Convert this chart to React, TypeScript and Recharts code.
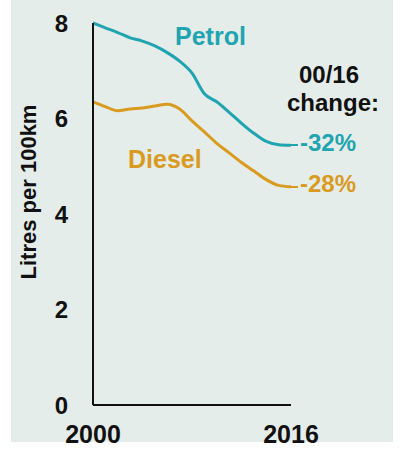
import React from 'react';
import { LineChart, Line, XAxis, YAxis } from 'recharts';

const years = [2000, 2001, 2002, 2003, 2004, 2005, 2006, 2007, 2008, 2009, 2010, 2011, 2012, 2013, 2014, 2015, 2016];
const petrol = [8.0, 7.9, 7.8, 7.69, 7.62, 7.52, 7.38, 7.2, 6.95, 6.52, 6.35, 6.13, 5.9, 5.69, 5.52, 5.45, 5.44];
const diesel = [6.35, 6.25, 6.16, 6.2, 6.22, 6.26, 6.3, 6.2, 5.95, 5.72, 5.48, 5.28, 5.08, 4.9, 4.72, 4.6, 4.57];
const yTicks = [0, 2, 4, 6, 8];
const xTicks = [2000, 2016];

const TEAL = '#1fa4b0';
const GOLD = '#d89b1f';
const FONT = '"Liberation Sans", Arial, sans-serif';

const data = years.map((y, i) => ({ year: y, petrol: petrol[i], diesel: diesel[i] }));

export default function App() {
  return (
    <div style={{ position: 'absolute', left: 0, top: 0, width: 400, height: 449, background: '#ffffff', fontFamily: FONT }}>
      <div style={{ position: 'absolute', left: 11, top: 0, width: 382, height: 442, background: '#e5edea' }} />
      <div style={{ position: 'absolute', left: 0, top: 0 }}>
        <LineChart width={400} height={449} data={data} margin={{ top: 23, right: 109, bottom: 0, left: 0 }}>
          <XAxis
            dataKey="year"
            type="number"
            domain={[2000, 2016]}
            ticks={xTicks}
            height={44}
            tickLine={false}
            axisLine={{ stroke: '#111', strokeWidth: 2 }}
            tickMargin={14}
            tick={{ fill: '#111', fontSize: 25, fontWeight: 700, fontFamily: FONT }}
          />
          <YAxis
            type="number"
            domain={[0, 8]}
            ticks={yTicks}
            width={93}
            tickLine={false}
            axisLine={{ stroke: '#111', strokeWidth: 2 }}
            tickMargin={19}
            tick={{ fill: '#111', fontSize: 24, fontWeight: 700, fontFamily: FONT }}
          />
          <Line dataKey="petrol" stroke={TEAL} strokeWidth={3} dot={false} isAnimationActive={false} type="monotone" />
          <Line dataKey="diesel" stroke={GOLD} strokeWidth={3} dot={false} isAnimationActive={false} type="monotone" />
        </LineChart>
      </div>
      <svg width={400} height={449} style={{ position: 'absolute', left: 0, top: 0, pointerEvents: 'none' }}>
        <g fontFamily={FONT} fontWeight={700}>
          <text x={28} y={192} fontSize={22} fill="#111" textAnchor="middle" dominantBaseline="central" transform="rotate(-90 28 192)">Litres per 100km</text>
          <text x={175} y={45} fontSize={25} fill={TEAL}>Petrol</text>
          <text x={128} y={168} fontSize={25} fill={GOLD}>Diesel</text>
          <text x={329} y={83} fontSize={24} fill="#111" textAnchor="middle">00/16</text>
          <text x={333} y={111} fontSize={24} fill="#111" textAnchor="middle">change:</text>
          <line x1={289} y1={145} x2={298} y2={145} stroke={TEAL} strokeWidth={2} />
          <text x={300} y={151} fontSize={24} fill={TEAL}>-32%</text>
          <line x1={289} y1={187} x2={298} y2={187} stroke={GOLD} strokeWidth={2} />
          <text x={300} y={192} fontSize={24} fill={GOLD}>-28%</text>
        </g>
      </svg>
    </div>
  );
}
